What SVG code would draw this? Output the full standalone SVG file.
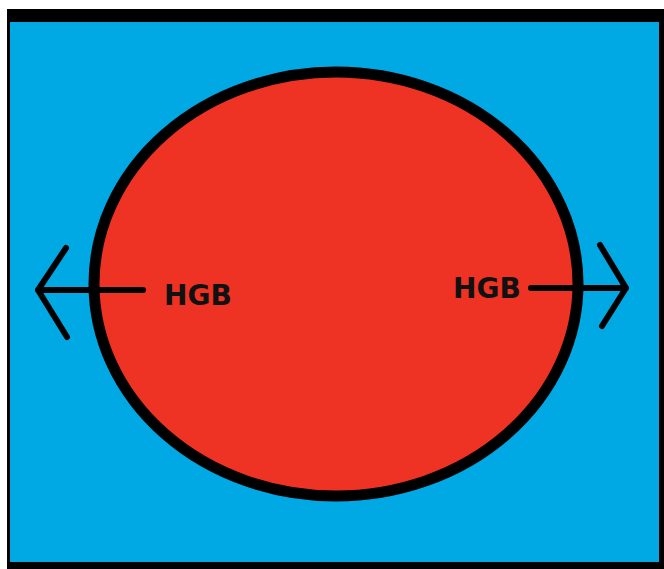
<svg xmlns="http://www.w3.org/2000/svg" width="664" height="569" viewBox="0 0 664 569">
<style>
.arrow{fill:none;stroke:#000;stroke-width:6;stroke-linecap:round;stroke-linejoin:round}
.lbl{font-family:"DejaVu Sans",sans-serif;font-weight:bold;font-size:28px;fill:#111}
</style>
<rect x="0" y="0" width="664" height="569" fill="#fff"/>
<g id="frame">
<rect x="7" y="9" width="657" height="560" fill="#000"/>
<rect x="10" y="22" width="649" height="540" fill="#00a8e4"/>
</g>
<g id="cell">
<ellipse cx="336" cy="284" rx="242" ry="212" fill="#ee3224" stroke="#000" stroke-width="11"/>
</g>
<g id="connectors">
<path class="arrow" d="M143,290 H38 M66,248 L38,290 L67,337"/>
<path class="arrow" d="M531,288 H626 M600,245 L626,288 L602,326"/>
</g>
<g id="label-left"><text class="lbl" x="164" y="305">HGB</text></g>
<g id="label-right"><text class="lbl" x="453" y="298">HGB</text></g>
</svg>
